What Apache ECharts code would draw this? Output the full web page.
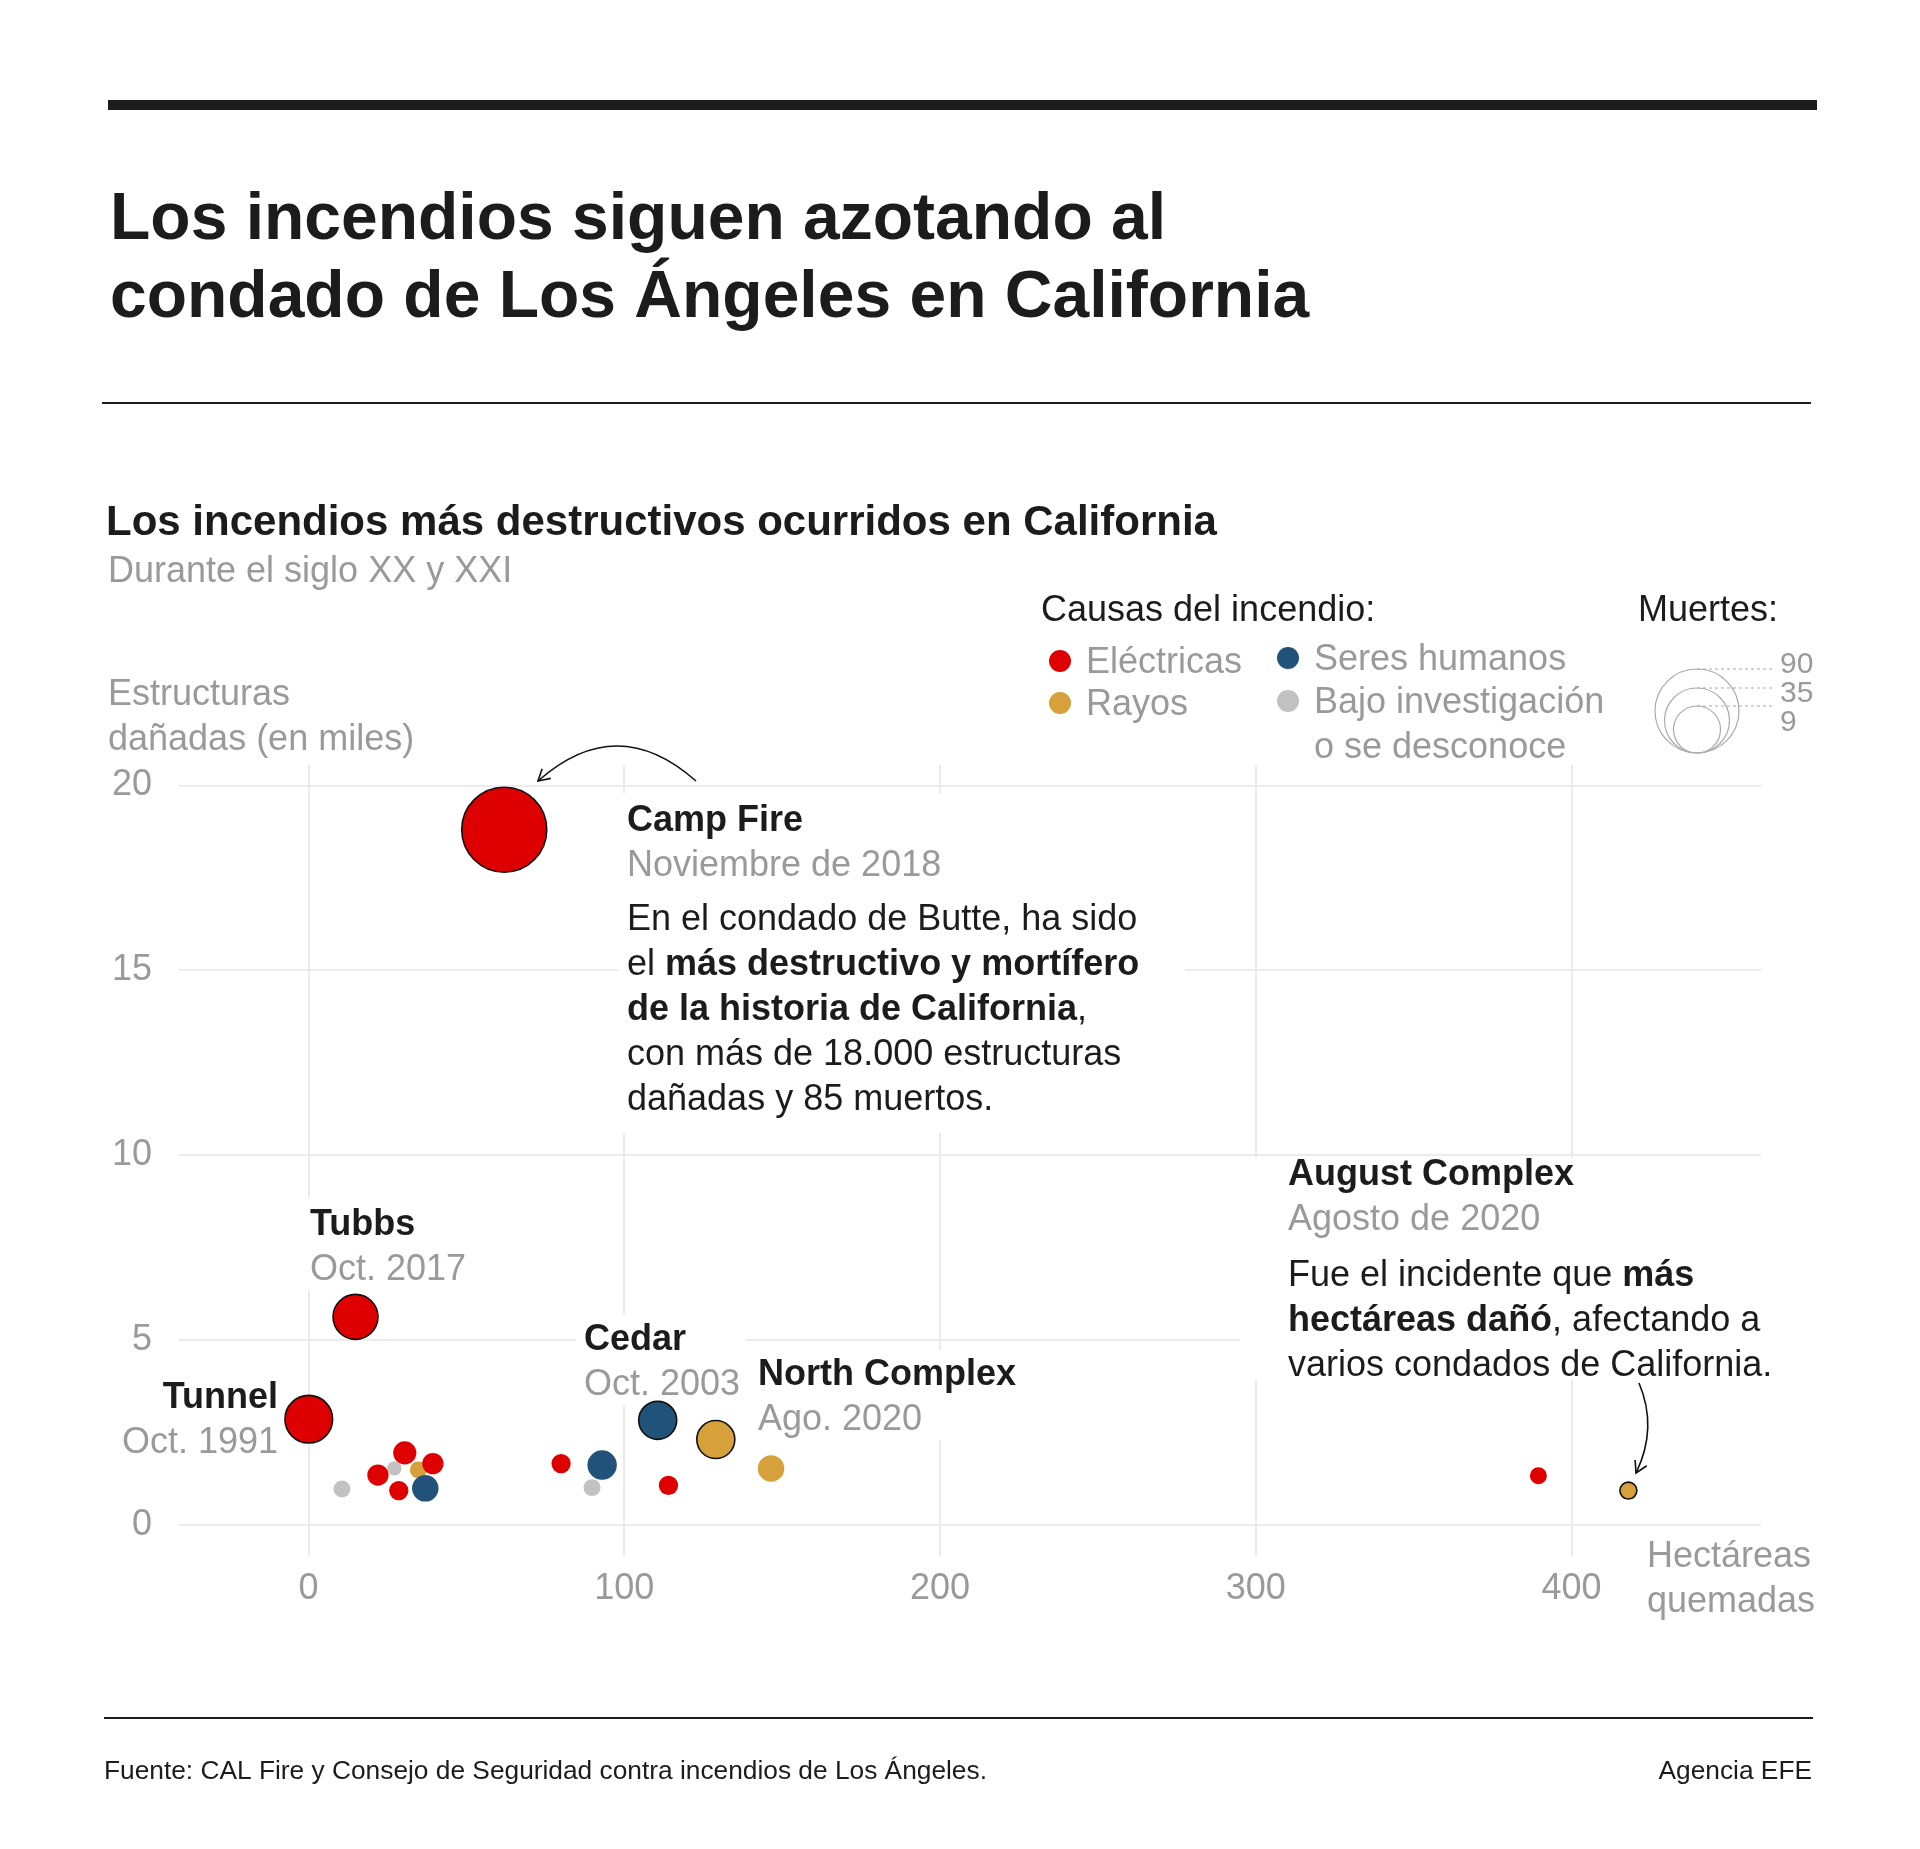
<!DOCTYPE html>
<html><head><meta charset="utf-8">
<script src="https://cdn.jsdelivr.net/npm/echarts@6/dist/echarts.min.js"></script>
<style>html,body{margin:0;padding:0;background:#fff}#c{width:1920px;height:1849px}</style>
</head><body><div id="c"></div>
<script>
// ---- data ----
const fireNames  = ['Camp Fire','Tubbs','Tunnel','Cedar','North Complex','Thomas','Woolsey','Carr','Nuns','Glass','Valley','Witch','LNU Lightning Complex','CZU Lightning Complex','Old','Jones','August Complex','Butte','Dixie','Caldor'];
const hectares   = [62, 14.9, 0.1, 110.6, 129, 114, 39.4, 93, 22, 27.2, 30.5, 80, 146.5, 34.8, 37, 10.6, 418, 28.6, 389.5, 89.8]; // miles de ha
const structures = [18.8, 5.62, 2.85, 2.82, 2.3, 1.06, 1.65, 1.61, 1.34, 1.52, 1.94, 1.65, 1.52, 1.48, 0.98, 0.96, 0.92, 0.92, 1.32, 1.0]; // miles
const deaths     = [85, 22, 25, 15, 15, 2, 3, 8, 3, 0, 4, 2, 6, 1, 6, 1, 1, 2, 1, 1];
const causes     = ['E','E','E','H','R','E','E','H','E','U','E','E','R','R','H','U','R','E','E','U'];
const highlighted = ['Camp Fire','Tubbs','Tunnel','Cedar','North Complex','August Complex'];

const causeKeys   = ['E','R','H','U'];
const causeLabels = ['Eléctricas','Rayos','Seres humanos','Bajo investigación'];
const causeColors = {E:'#de0000', R:'#d6a13b', H:'#20527a', U:'#c2c2c2'};
const drawOrder   = ['U','R','E','H'];

const xTicks = [0,100,200,300,400];
const yTicks = [0,5,10,15,20];
const deathLegendValues = [90,35,9];
const deathLegendSizes  = [84,65,47];

// ---- helpers ----
const FF = "'Liberation Sans', Arial, Helvetica, sans-serif";
const INK = '#1c1c1c', GREY = '#9a9a9a';
const DY = 3;
function sizeOf(d){ return Math.sqrt(206 + 82.6*d); }
function T(x, y, text, size, color, weight, align, rich){
  return {type:'text', z:40, silent:true, style:{
    x:x, y:y, text:text, font:(weight||'normal')+' '+size+'px '+FF,
    fontSize:size, fontFamily:FF, fontWeight:weight||'normal',
    fill:color, textAlign:align||'left', textVerticalAlign:'middle',
    align:align||'left', verticalAlign:'middle', rich:rich}};
}
function Ts(x, y, text, size, color, weight, align, rich){ return T(x, y+DY, text, size, color, weight, align, rich); }
const boldRich = {b:{fontWeight:'bold', fontSize:36, fontFamily:FF, fill:INK}};
function box(x,y,w,h){ return {type:'rect', z:30, silent:true, shape:{x:x,y:y,width:w,height:h}, style:{fill:'#fff'}}; }
function arrow(x1,y1,cx,cy,x2,y2){
  const dx=x2-cx, dy=y2-cy, L=Math.hypot(dx,dy), ux=dx/L, uy=dy/L, len=13, a=Math.PI/6;
  const p1=[x2-len*(ux*Math.cos(a)-uy*Math.sin(a)), y2-len*(uy*Math.cos(a)+ux*Math.sin(a))];
  const p2=[x2-len*(ux*Math.cos(-a)-uy*Math.sin(-a)), y2-len*(uy*Math.cos(-a)+ux*Math.sin(-a))];
  return [
    {type:'bezierCurve', z:40, silent:true, shape:{x1:x1,y1:y1,cpx1:cx,cpy1:cy,x2:x2,y2:y2}, style:{stroke:'#111', lineWidth:1.6, fill:null}},
    {type:'polyline', z:40, silent:true, shape:{points:[p1,[x2,y2],p2]}, style:{stroke:'#111', lineWidth:1.6, fill:null}}
  ];
}

// ---- series ----
const series = drawOrder.map(function(k, si){
  const data = [];
  fireNames.forEach(function(n,i){
    if(causes[i]!==k) return;
    const item = {name:n, value:[hectares[i], structures[i], deaths[i]]};
    if(highlighted.indexOf(n)>=0) item.itemStyle = {borderColor:'#111', borderWidth:1.6};
    data.push(item);
  });
  const s = {type:'scatter', name:causeLabels[causeKeys.indexOf(k)], z:50, data:data,
    symbolSize:function(v){ return sizeOf(v[2]); },
    itemStyle:{color:causeColors[k], opacity:1}, emphasis:{disabled:true}, silent:true};
  if(si===0){
    s.markLine = {silent:true, symbol:['none','none'], z:1, label:{show:false},
      lineStyle:{color:'#e6e6e6', width:1.6, type:'solid'},
      data: xTicks.map(function(v){return {xAxis:v};}).concat(yTicks.map(function(v){return {yAxis:v};}))};
  }
  return s;
});

// ---- graphics (texts, legend, annotations) ----
const g = [];
g.push({type:'rect', z:40, silent:true, shape:{x:108,y:100,width:1709,height:10}, style:{fill:'#1c1c1c'}});
g.push({type:'rect', z:40, silent:true, shape:{x:102,y:402,width:1709,height:2}, style:{fill:'#1c1c1c'}});
g.push({type:'rect', z:40, silent:true, shape:{x:104,y:1717,width:1709,height:2}, style:{fill:'#1c1c1c'}});
g.push(T(110, 221, 'Los incendios siguen azotando al', 66, INK, 'bold'));
g.push(T(110, 299, 'condado de Los Ángeles en California', 66, INK, 'bold'));
g.push(Ts(106, 520, 'Los incendios más destructivos ocurridos en California', 42, INK, 'bold'));
g.push(Ts(108, 569, 'Durante el siglo XX y XXI', 36, GREY));
g.push(Ts(104, 1769, 'Fuente: CAL Fire y Consejo de Seguridad contra incendios de Los Ángeles.', 26.3, INK));
g.push(Ts(1812, 1769, 'Agencia EFE', 26.3, INK, 'normal', 'right'));
// axis titles
g.push(Ts(108, 692, 'Estructuras', 36, GREY));
g.push(Ts(108, 737, 'dañadas (en miles)', 36, GREY));
g.push(Ts(1647, 1554, 'Hectáreas', 36, GREY));
g.push(Ts(1647, 1599, 'quemadas', 36, GREY));
// legend: causes
g.push(Ts(1041, 608, 'Causas del incendio:', 36, INK));
const legPos = {E:[1060,661], R:[1060,703], H:[1288,658], U:[1288,701]};
causeKeys.forEach(function(k,i){
  const p = legPos[k];
  g.push({type:'circle', z:40, silent:true, shape:{cx:p[0], cy:p[1], r:11}, style:{fill:causeColors[k]}});
  g.push(Ts(p[0]+26, p[1]-1, causeLabels[i], 36, GREY));
});
g.push(Ts(1314, 745, 'o se desconoce', 36, GREY));
// legend: deaths
g.push(Ts(1638, 608, 'Muertes:', 36, INK));
const legLabelY = [662, 691, 720];
deathLegendValues.forEach(function(v,i){
  const d = deathLegendSizes[i], cx = 1697, bottom = 753, top = bottom - d;
  g.push({type:'circle', z:40, silent:true, shape:{cx:cx, cy:bottom-d/2, r:d/2}, style:{fill:null, stroke:'#aaa', lineWidth:1.2}});
  g.push({type:'line', z:40, silent:true, shape:{x1:cx, y1:top, x2:1772, y2:top}, style:{stroke:'#aaa', lineWidth:1.2, lineDash:[3,3]}});
  g.push(Ts(1780, legLabelY[i], String(v), 30, GREY));
});
// annotation boxes hiding gridlines
g.push(box(618, 793, 567, 340));
g.push(box(1240, 1158, 560, 222));
g.push(box(300, 1198, 170, 92));
g.push(box(576, 1315, 170, 90));
g.push(box(750, 1350, 280, 90));
// Camp Fire
g.push(Ts(627, 818, 'Camp Fire', 36, INK, 'bold'));
g.push(Ts(627, 863, 'Noviembre de 2018', 36, GREY));
g.push(Ts(627, 917, 'En el condado de Butte, ha sido', 36, INK));
g.push(Ts(627, 962, 'el {b|más destructivo y mortífero}', 36, INK, 'normal', 'left', boldRich));
g.push(Ts(627, 1007, '{b|de la historia de California},', 36, INK, 'normal', 'left', boldRich));
g.push(Ts(627, 1052, 'con más de 18.000 estructuras', 36, INK));
g.push(Ts(627, 1097, 'dañadas y 85 muertos.', 36, INK));
// August Complex
g.push(Ts(1288, 1172, 'August Complex', 36, INK, 'bold'));
g.push(Ts(1288, 1217, 'Agosto de 2020', 36, GREY));
g.push(Ts(1288, 1273, 'Fue el incidente que {b|más}', 36, INK, 'normal', 'left', boldRich));
g.push(Ts(1288, 1318, '{b|hectáreas dañó}, afectando a', 36, INK, 'normal', 'left', boldRich));
g.push(Ts(1288, 1363, 'varios condados de California.', 36, INK));
// other labels
g.push(Ts(310, 1222, 'Tubbs', 36, INK, 'bold'));
g.push(Ts(310, 1267, 'Oct. 2017', 36, GREY));
g.push(Ts(278, 1395, 'Tunnel', 36, INK, 'bold', 'right'));
g.push(Ts(278, 1440, 'Oct. 1991', 36, GREY, 'normal', 'right'));
g.push(Ts(584, 1337, 'Cedar', 36, INK, 'bold'));
g.push(Ts(584, 1382, 'Oct. 2003', 36, GREY));
g.push(Ts(758, 1372, 'North Complex', 36, INK, 'bold'));
g.push(Ts(758, 1417, 'Ago. 2020', 36, GREY));
// arrows
arrow(696, 781, 617, 711, 538, 781).forEach(function(e){ g.push(e); });
arrow(1639, 1383, 1658, 1428, 1636, 1473).forEach(function(e){ g.push(e); });

const chart = echarts.init(document.getElementById('c'), null, {renderer:'canvas'});
chart.setOption({
  backgroundColor:'#fff',
  animation:false,
  textStyle:{fontFamily:FF},
  grid:{left:179, right:159, top:765, bottom:293, containLabel:false},
  xAxis:{type:'value', min:-41, max:460,
    axisLine:{show:false}, axisTick:{show:false}, splitLine:{show:false},
    axisLabel:{customValues:xTicks, color:GREY, fontSize:36, fontFamily:FF, margin:15}},
  yAxis:{type:'value', min:-0.85, max:20.55,
    axisLine:{show:false}, axisTick:{show:false}, splitLine:{show:false},
    axisLabel:{customValues:yTicks, color:GREY, fontSize:36, fontFamily:FF, margin:27}},
  series:series,
  graphic:{elements:g}
});
</script></body></html>
